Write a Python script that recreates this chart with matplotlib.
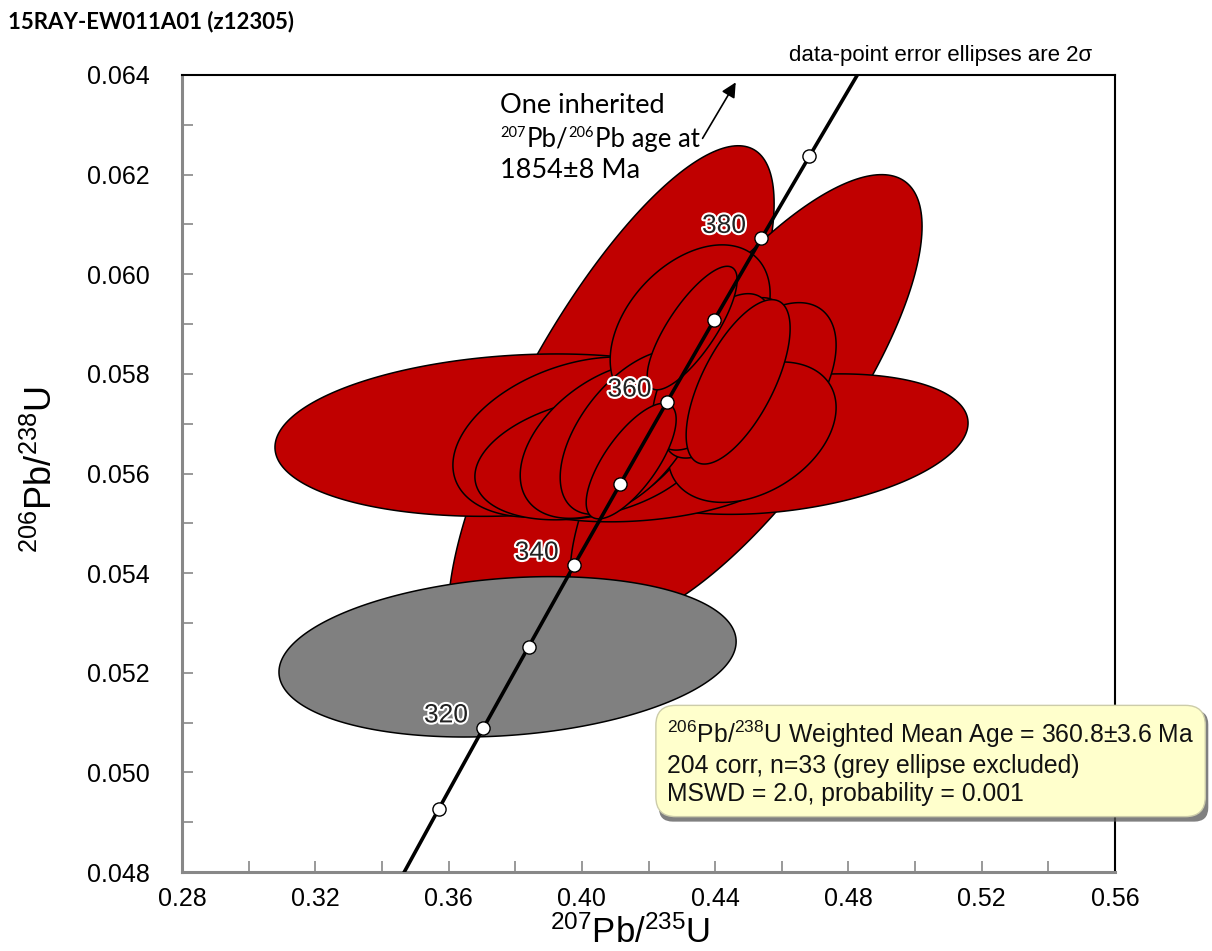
import numpy as np
import matplotlib
matplotlib.use('Agg')
import matplotlib.pyplot as plt
from matplotlib import patheffects
from matplotlib.patches import FancyBboxPatch
from matplotlib.ticker import MultipleLocator, FormatStrFormatter

plt.rcParams['font.family'] = ['Liberation Sans', 'DejaVu Sans']
plt.rcParams['mathtext.default'] = 'regular'

W, H = 1212, 951

# concordia curve reference points (age in Ma)
conc_age = [300, 310, 320, 330, 340, 350, 360, 370, 380, 390, 400]
conc_x = [0.34374, 0.35704, 0.37047, 0.38403, 0.39766, 0.41156,
          0.42553, 0.43964, 0.45389, 0.46828, 0.48281]
conc_y = [0.047637, 0.049264, 0.050893, 0.052524, 0.054158, 0.055795,
          0.057434, 0.059075, 0.060720, 0.062367, 0.064016]
marker_ages = [310, 320, 330, 340, 350, 360, 370, 380, 390]
label_ages = [320, 340, 360, 380]

# data-point ellipses: centre, 2 sigma half-extents, error correlation
ell_x = [0.4088, 0.4493, 0.3814, 0.4610, 0.4175, 0.3979, 0.4024, 0.4541,
         0.4085, 0.4511, 0.4325, 0.4151, 0.4427, 0.4391, 0.4469, 0.4331, 0.4148]
ell_y = [0.05732, 0.05748, 0.05677, 0.05659, 0.05607, 0.05673, 0.05631, 0.05772,
         0.05667, 0.05683, 0.05894, 0.05683, 0.05792, 0.05804, 0.05784, 0.05892, 0.05625]
ell_sx = [0.0489, 0.0528, 0.0735, 0.0549, 0.0450, 0.0366, 0.0345, 0.0222,
          0.0270, 0.0252, 0.0240, 0.0216, 0.0186, 0.0180, 0.0156, 0.0135, 0.0135]
ell_sy = [0.00526, 0.00452, 0.00163, 0.00141, 0.00104, 0.00161, 0.00124, 0.00171,
          0.00157, 0.00141, 0.00165, 0.00165, 0.00161, 0.00157, 0.00165, 0.00124, 0.00116]
ell_rho = [0.78, 0.77, 0.15, 0.30, 0.20, 0.35, 0.30, 0.50,
           0.45, 0.35, 0.40, 0.55, 0.62, 0.60, 0.65, 0.78, 0.72]

# excluded analysis (grey)
grey_x, grey_y, grey_sx, grey_sy, grey_rho = 0.3777, 0.05232, 0.0686, 0.00161, 0.19


def ellipse_xy(cx, cy, sx, sy, rho, n=240):
    t = np.linspace(0, 2 * np.pi, n)
    x = cx + sx * np.cos(t)
    y = cy + sy * (rho * np.cos(t) + np.sqrt(1 - rho ** 2) * np.sin(t))
    return x, y


fig = plt.figure(figsize=(W / 100, H / 100), dpi=100)
ax = fig.add_axes([182 / W, 1 - 872 / H, 933 / W, 797 / H])

z = 2
for cx, cy, sx, sy, r in zip(ell_x, ell_y, ell_sx, ell_sy, ell_rho):
    ex, ey = ellipse_xy(cx, cy, sx, sy, r)
    ax.fill(ex, ey, facecolor='#C00000', edgecolor='black', linewidth=1.1, zorder=z)
    z += 0.01

ex, ey = ellipse_xy(grey_x, grey_y, grey_sx, grey_sy, grey_rho)
ax.fill(ex, ey, facecolor='#808080', edgecolor='black', linewidth=1.1, zorder=z)

# concordia
ax.plot(conc_x, conc_y, color='black', linewidth=2.6, zorder=5)
mx = [conc_x[conc_age.index(a)] for a in marker_ages]
my = [conc_y[conc_age.index(a)] for a in marker_ages]
ax.plot(mx, my, 'o', markersize=9.5, markerfacecolor='white',
        markeredgecolor='black', markeredgewidth=1.0, zorder=6)
for a in label_ages:
    i = conc_age.index(a)
    ax.annotate(str(a), (conc_x[i], conc_y[i]), xytext=(-27, 9),
                textcoords='offset points', ha='center', va='center',
                fontsize=19, color='#222222', zorder=7,
                path_effects=[patheffects.withStroke(linewidth=3, foreground='white')])

ax.set_xlim(0.28, 0.56)
ax.set_ylim(0.048, 0.064)
ax.xaxis.set_major_locator(MultipleLocator(0.04))
ax.xaxis.set_minor_locator(MultipleLocator(0.02))
ax.yaxis.set_major_locator(MultipleLocator(0.002))
ax.yaxis.set_minor_locator(MultipleLocator(0.001))
ax.xaxis.set_major_formatter(FormatStrFormatter('%.2f'))
ax.yaxis.set_major_formatter(FormatStrFormatter('%.3f'))
ax.tick_params(which='both', direction='in', length=8, width=1.2, color='#888888',
               labelsize=18, top=False, right=False)
ax.tick_params(axis='x', pad=11)
ax.tick_params(axis='y', pad=23)
for s in ['left', 'bottom']:
    ax.spines[s].set_color('#888888')
    ax.spines[s].set_linewidth(2.2)
for s in ['top', 'right']:
    ax.spines[s].set_color('black')
    ax.spines[s].set_linewidth(1.5)

fig.text(630 / W, 1 - 943 / H, '$^{207}$Pb/$^{235}$U', fontsize=25,
         ha='center', va='baseline')
fig.text(42 / W, 1 - 470 / H, '$^{206}$Pb/$^{238}$U', fontsize=26,
         ha='center', va='center', rotation=90)

fig.text(8 / W, 1 - 22 / H, '15RAY-EW011A01 (z12305)', fontsize=16,
         fontweight='bold', family=['Lato', 'DejaVu Sans'], ha='left', va='center')
fig.text(1092 / W, 1 - 55 / H, 'data-point error ellipses are 2\u03c3',
         fontsize=16, ha='right', va='center')

# note on the inherited grain, written piece by piece for small superscripts
renderer = fig.canvas.get_renderer()
note_lines = [
    (113, [('One inherited', 19.5, 0)]),
    (147, [('207', 10.5, 10), ('Pb/', 18.5, 0), ('206', 10.5, 10), ('Pb age at', 18.5, 0)]),
    (178, [('1854\u00b18 Ma', 19.5, 0)]),
]
for base, pieces in note_lines:
    xpos = 500
    for s, size, rise in pieces:
        t = fig.text(xpos / W, 1 - (base - rise) / H, s, fontsize=size,
                     family=['Lato', 'DejaVu Sans'], ha='left', va='baseline')
        xpos += t.get_window_extent(renderer).width + (1 if rise else 0)
ax.annotate('', xy=(0.4466, 0.0639), xytext=(0.4358, 0.06268),
            arrowprops=dict(arrowstyle='-|>', color='black', lw=1.2, mutation_scale=22),
            zorder=8)

# result box with shadow
box_txt = ('$^{206}$Pb/$^{238}$U Weighted Mean Age = 360.8\u00b13.6 Ma\n'
           '204 corr, n=33 (grey ellipse excluded)\n'
           'MSWD = 2.0, probability = 0.001')
res = fig.text(667 / W, 1 - 762 / H, box_txt, fontsize=17.8, ha='left',
               va='center', linespacing=1.2, color='#111111', zorder=10,
               bbox=dict(boxstyle='round,pad=0.45,rounding_size=0.8', fc='#FFFFCC',
                         ec='#CCCCAA', lw=1))
fig.canvas.draw()
bb = res.get_bbox_patch().get_window_extent()
shadow = FancyBboxPatch((bb.x0 + 3, bb.y0 - 5), bb.width, bb.height,
                        boxstyle='round,pad=0,rounding_size=14', transform=None,
                        fc='#555555', ec='none', alpha=0.75, zorder=9)
fig.patches.append(shadow)

fig.savefig('out.png', dpi=100)
